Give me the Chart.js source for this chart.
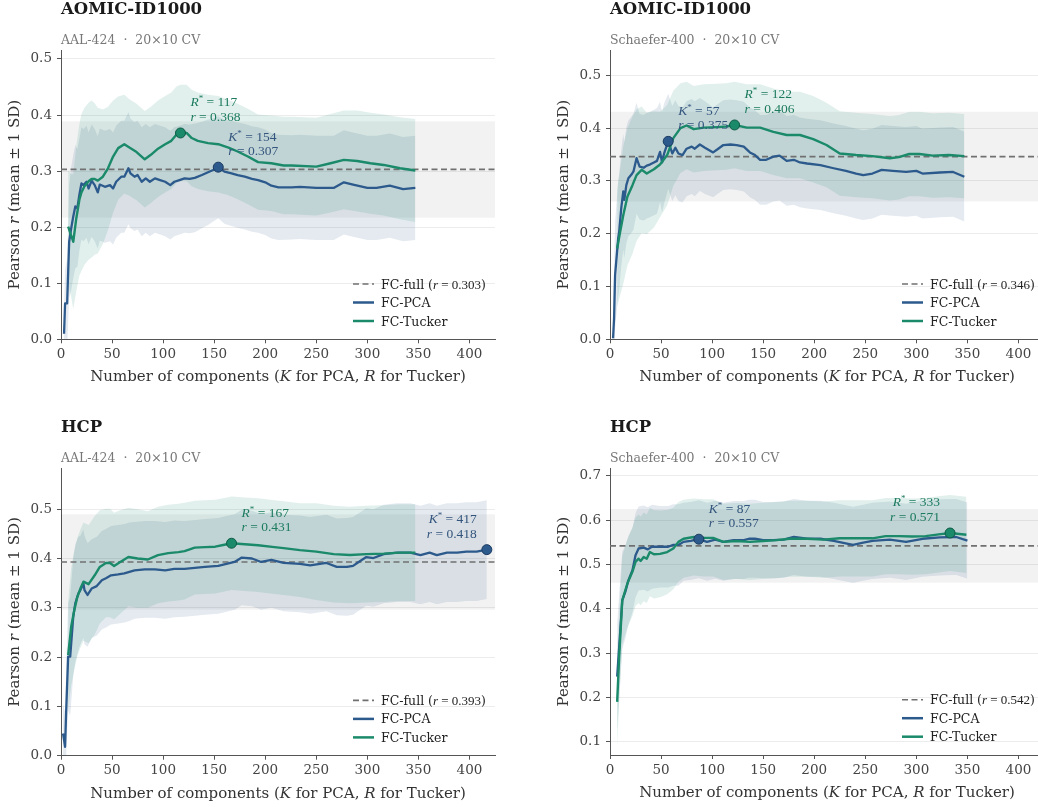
<!DOCTYPE html>
<html>
<head>
<meta charset="utf-8">
<script src="https://cdn.jsdelivr.net/npm/chart.js@4.4.1/dist/chart.umd.min.js"></script>
<style>
html,body{margin:0;padding:0;background:#fff;}
body{width:1038px;height:807px;overflow:hidden;position:relative;}
canvas{position:absolute;display:block;}
</style>
</head>
<body>
<canvas id="c0"></canvas>
<canvas id="c1"></canvas>
<canvas id="c2"></canvas>
<canvas id="c3"></canvas>
<script>
// ---------------- DATA ----------------
const titles = ['AOMIC-ID1000', 'AOMIC-ID1000', 'HCP', 'HCP'];
const subtitles = ['AAL-424  \u00b7  20\u00d710 CV', 'Schaefer-400  \u00b7  20\u00d710 CV', 'AAL-424  \u00b7  20\u00d710 CV', 'Schaefer-400  \u00b7  20\u00d710 CV'];
const xTicks = [0, 50, 100, 150, 200, 250, 300, 350, 400];
const yTicks1 = [0.0, 0.1, 0.2, 0.3, 0.4, 0.5];
const yTicks2 = [0.0, 0.1, 0.2, 0.3, 0.4, 0.5];
const yTicks3 = [0.0, 0.1, 0.2, 0.3, 0.4, 0.5];
const yTicks4 = [0.1, 0.2, 0.3, 0.4, 0.5, 0.6, 0.7];
const yRange = [[0, 0.516], [0, 0.548], [0, 0.583], [0.07, 0.717]];
const xMax = 425;

// FC-full baseline (mean r, SD)
const fullR  = [0.303, 0.346, 0.393, 0.542];
const fullSD = [0.086, 0.085, 0.097, 0.083];

// best points [component, r]
const bestPCA    = [[154, 0.307], [57, 0.375], [417, 0.418], [87, 0.557]];
const bestTucker = [[117, 0.368], [122, 0.406], [167, 0.431], [333, 0.571]];

// Panel 1: AOMIC-ID1000, AAL-424
const pca1K = [3,4,6,8,10,12,14,16,18,20,22,25,27,30,33,36,38,43,48,51,54,59,62,66,68,72,75,79,83,87,92,97,102,107,111,116,121,126,131,138,144,149,154,160,167,173,180,187,193,200,206,213,226,234,250,267,277,286,300,309,322,335,347];
const pca1R = [0.010,0.064,0.064,0.174,0.198,0.219,0.237,0.234,0.258,0.278,0.275,0.281,0.269,0.283,0.275,0.262,0.276,0.272,0.275,0.269,0.281,0.290,0.290,0.305,0.296,0.290,0.293,0.281,0.287,0.281,0.287,0.284,0.281,0.275,0.281,0.284,0.287,0.286,0.288,0.293,0.298,0.302,0.307,0.299,0.296,0.293,0.290,0.286,0.284,0.280,0.274,0.271,0.271,0.272,0.270,0.270,0.280,0.276,0.270,0.270,0.274,0.268,0.270];
const pca1SD = [0.05,0.06,0.08,0.10,0.11,0.11,0.11,0.105,0.10,0.10,0.10,0.10,0.10,0.10,0.10,0.10,0.10,0.10,0.10,0.10,0.10,0.10,0.10,0.10,0.098,0.097,0.097,0.097,0.097,0.097,0.097,0.097,0.097,0.097,0.097,0.097,0.097,0.097,0.097,0.095,0.094,0.092,0.091,0.093,0.094,0.094,0.094,0.094,0.094,0.094,0.094,0.094,0.093,0.093,0.093,0.093,0.093,0.093,0.093,0.093,0.093,0.093,0.093];
const tuc1K = [7,10,12,15,18,20,23,27,30,33,36,41,46,51,56,62,67,74,82,88,95,102,108,113,117,123,128,134,144,154,164,173,183,193,206,218,226,250,264,277,290,303,316,332,347];
const tuc1R = [0.201,0.185,0.174,0.216,0.249,0.262,0.273,0.282,0.286,0.286,0.283,0.290,0.305,0.326,0.341,0.348,0.342,0.334,0.321,0.329,0.340,0.348,0.354,0.365,0.368,0.368,0.359,0.354,0.350,0.348,0.342,0.335,0.326,0.316,0.314,0.310,0.310,0.308,0.314,0.320,0.318,0.314,0.311,0.305,0.301];
const tuc1SD = [0.10,0.11,0.12,0.13,0.135,0.14,0.14,0.14,0.14,0.135,0.13,0.12,0.11,0.10,0.092,0.088,0.086,0.086,0.086,0.086,0.086,0.086,0.086,0.086,0.086,0.086,0.086,0.086,0.086,0.086,0.085,0.085,0.085,0.085,0.085,0.087,0.087,0.087,0.088,0.088,0.09,0.09,0.09,0.091,0.092];

// Panel 2: AOMIC-ID1000, Schaefer-400
const pca2K = [3,4,5,8,9,11,13,14,16,18,21,23,26,29,33,36,39,43,46,49,51,53,57,61,64,67,71,75,80,83,88,93,101,106,111,118,124,131,137,142,147,153,160,166,173,180,186,193,206,219,231,241,248,257,266,277,290,300,306,323,336,347];
const pca2R = [0.002,0.040,0.122,0.191,0.204,0.248,0.280,0.264,0.292,0.305,0.312,0.318,0.343,0.327,0.325,0.329,0.331,0.335,0.338,0.355,0.335,0.352,0.375,0.352,0.363,0.352,0.349,0.361,0.365,0.361,0.369,0.363,0.354,0.361,0.368,0.369,0.368,0.365,0.354,0.349,0.340,0.340,0.346,0.348,0.338,0.340,0.335,0.333,0.330,0.324,0.319,0.314,0.311,0.314,0.321,0.319,0.317,0.319,0.314,0.316,0.317,0.308];
const pca2SD = [0.08,0.09,0.10,0.11,0.11,0.11,0.11,0.11,0.11,0.11,0.11,0.11,0.105,0.10,0.10,0.10,0.10,0.10,0.10,0.095,0.095,0.095,0.09,0.09,0.09,0.09,0.09,0.09,0.09,0.09,0.088,0.088,0.085,0.085,0.085,0.085,0.085,0.085,0.085,0.085,0.085,0.085,0.085,0.085,0.085,0.085,0.085,0.085,0.085,0.085,0.085,0.085,0.085,0.085,0.085,0.085,0.085,0.085,0.085,0.085,0.085,0.085];
const tuc2K = [7,10,13,17,22,26,31,36,43,49,56,62,69,75,82,92,105,114,122,134,147,160,173,186,199,212,225,241,257,274,283,293,303,316,332,347];
const tuc2R = [0.172,0.204,0.235,0.270,0.292,0.311,0.321,0.314,0.322,0.331,0.349,0.381,0.400,0.405,0.398,0.401,0.402,0.403,0.406,0.401,0.401,0.393,0.387,0.387,0.379,0.368,0.352,0.349,0.347,0.343,0.345,0.351,0.351,0.348,0.349,0.347];
const tuc2SD = [0.11,0.12,0.13,0.13,0.13,0.125,0.12,0.115,0.11,0.10,0.095,0.09,0.085,0.083,0.082,0.082,0.082,0.082,0.082,0.082,0.082,0.082,0.082,0.082,0.082,0.08,0.08,0.08,0.08,0.08,0.08,0.08,0.08,0.08,0.08,0.08];

// Panel 3: HCP, AAL-424
const pca3K = [2,4,5,7,9,12,14,17,19,22,23,26,30,35,40,44,49,56,62,67,72,82,92,102,111,121,131,141,154,164,170,177,187,196,206,218,234,244,260,270,280,286,293,299,306,316,329,342,352,361,368,378,388,397,407,417];
const pca3R = [0.045,0.018,0.086,0.201,0.201,0.282,0.309,0.329,0.336,0.349,0.336,0.326,0.339,0.344,0.356,0.360,0.366,0.368,0.370,0.373,0.376,0.378,0.378,0.376,0.379,0.379,0.381,0.383,0.385,0.390,0.393,0.402,0.400,0.393,0.397,0.391,0.389,0.386,0.391,0.383,0.383,0.385,0.395,0.403,0.401,0.409,0.412,0.412,0.407,0.412,0.407,0.412,0.412,0.414,0.414,0.418];
const pca3SD = [0.06,0.07,0.09,0.11,0.12,0.12,0.12,0.115,0.11,0.11,0.11,0.105,0.10,0.10,0.10,0.10,0.10,0.10,0.10,0.10,0.098,0.098,0.098,0.098,0.098,0.097,0.097,0.097,0.097,0.097,0.097,0.097,0.097,0.097,0.097,0.098,0.098,0.098,0.098,0.098,0.099,0.099,0.099,0.099,0.099,0.10,0.10,0.10,0.10,0.10,0.10,0.10,0.10,0.10,0.10,0.10];
const tuc3K = [7,10,13,16,19,22,27,33,38,44,48,52,58,66,75,85,95,105,115,121,131,141,151,160,167,180,193,209,218,234,250,267,283,299,316,332,347];
const tuc3R = [0.204,0.262,0.295,0.322,0.339,0.353,0.348,0.366,0.383,0.391,0.391,0.385,0.393,0.403,0.400,0.398,0.407,0.411,0.413,0.415,0.422,0.423,0.424,0.428,0.431,0.429,0.427,0.423,0.421,0.417,0.414,0.409,0.407,0.409,0.410,0.412,0.412];
const tuc3SD = [0.11,0.12,0.12,0.12,0.12,0.12,0.12,0.12,0.115,0.11,0.11,0.108,0.105,0.10,0.10,0.098,0.098,0.098,0.098,0.098,0.095,0.095,0.095,0.095,0.095,0.095,0.095,0.095,0.095,0.095,0.098,0.098,0.098,0.098,0.098,0.098,0.098];

// Panel 4: HCP, Schaefer-400
const pca4K = [7,9,12,15,18,22,25,28,33,37,41,49,57,62,67,72,79,87,95,103,111,121,131,136,142,150,160,170,180,193,206,219,238,248,257,274,290,306,323,339,350];
const pca4R = [0.247,0.314,0.419,0.438,0.464,0.487,0.521,0.536,0.538,0.534,0.540,0.540,0.540,0.544,0.544,0.551,0.553,0.557,0.551,0.556,0.551,0.555,0.555,0.558,0.558,0.555,0.555,0.556,0.562,0.558,0.558,0.553,0.544,0.549,0.553,0.556,0.551,0.558,0.561,0.562,0.554];
const pca4SD = [0.12,0.12,0.11,0.105,0.10,0.095,0.095,0.095,0.095,0.095,0.095,0.092,0.092,0.092,0.092,0.088,0.088,0.088,0.088,0.088,0.088,0.088,0.088,0.088,0.088,0.086,0.086,0.086,0.086,0.086,0.086,0.086,0.086,0.086,0.086,0.086,0.086,0.086,0.086,0.086,0.086];
const tuc4K = [7,9,12,17,22,25,28,30,33,36,39,43,49,56,62,67,72,82,92,101,111,124,137,150,163,176,193,209,225,241,257,270,283,296,309,322,333,349];
const tuc4R = [0.190,0.292,0.419,0.457,0.484,0.506,0.513,0.508,0.517,0.513,0.528,0.523,0.524,0.528,0.536,0.551,0.558,0.562,0.560,0.560,0.551,0.553,0.551,0.553,0.555,0.558,0.558,0.556,0.559,0.559,0.559,0.564,0.564,0.563,0.564,0.568,0.571,0.567];
const tuc4SD = [0.10,0.10,0.10,0.10,0.10,0.10,0.10,0.10,0.10,0.10,0.10,0.10,0.098,0.095,0.092,0.09,0.088,0.087,0.087,0.087,0.086,0.086,0.086,0.086,0.086,0.086,0.086,0.086,0.086,0.086,0.086,0.086,0.086,0.086,0.086,0.086,0.086,0.086];

// ---------------- STYLE / LAYOUT ----------------
const C_PCA = '#2d5a8c', C_TUC = '#1a8a6a';
const C_PCA_EDGE = '#1b3a60', C_TUC_EDGE = '#0e5a44';
const C_PCA_BAND = 'rgba(45,90,140,0.13)', C_TUC_BAND = 'rgba(26,138,106,0.13)';
const C_FULL_BAND = 'rgba(0,0,0,0.05)';
const C_DASH = '#707070';
const SERIF = '"DejaVu Serif", serif';
const MATH = '"Liberation Serif", "DejaVu Serif", serif';

const layouts = [
  {left:0,   top:0,   w:519, h:400, padTop:50,   xh:60.7},
  {left:549, top:0,   w:519, h:400, padTop:50,   xh:60.7},
  {left:0,   top:418, w:519, h:398, padTop:50.3, xh:60.3},
  {left:549, top:418, w:519, h:398, padTop:50.3, xh:61.0}
];

const panels = [
  {pK:pca1K, pR:pca1R, pS:pca1SD, tK:tuc1K, tR:tuc1R, tS:tuc1SD, yt:yTicks1},
  {pK:pca2K, pR:pca2R, pS:pca2SD, tK:tuc2K, tR:tuc2R, tS:tuc2SD, yt:yTicks2},
  {pK:pca3K, pR:pca3R, pS:pca3SD, tK:tuc3K, tR:tuc3R, tS:tuc3SD, yt:yTicks3},
  {pK:pca4K, pR:pca4R, pS:pca4SD, tK:tuc4K, tR:tuc4R, tS:tuc4SD, yt:yTicks4}
];

function pts(xs, ys) { return xs.map((x, i) => ({x: x, y: ys[i]})); }
function edge(xs, ys, sd, sign) { return xs.map((x, i) => ({x: x, y: ys[i] + sign * sd[i]})); }

function drawRich(ctx, segs, x, y, align) {
  let w = 0;
  for (const s of segs) { ctx.font = s.font; w += ctx.measureText(s.t).width; }
  let cx = align === 'center' ? x - w / 2 : (align === 'right' ? x - w : x);
  ctx.textAlign = 'left';
  ctx.textBaseline = 'alphabetic';
  for (const s of segs) {
    ctx.font = s.font;
    ctx.fillStyle = s.color;
    ctx.fillText(s.t, cx, y + (s.dy || 0));
    cx += ctx.measureText(s.t).width;
  }
}

const panelText = {
  id: 'panelText',
  afterDraw(chart) {
    const o = chart.options.plugins.panelText;
    const ctx = chart.ctx;
    const a = chart.chartArea;
    const xs = chart.scales.x, ys = chart.scales.y;
    ctx.save();
    // title + subtitle
    ctx.textAlign = 'left'; ctx.textBaseline = 'alphabetic';
    ctx.font = 'bold 16.5px ' + SERIF; ctx.fillStyle = '#1a1a1a';
    ctx.fillText(o.title, a.left, a.top - 36.5);
    ctx.font = '12.5px ' + SERIF; ctx.fillStyle = '#777';
    ctx.fillText(o.subtitle, a.left, a.top - 6.5);
    // x title
    const tf = '15px ' + SERIF, tfi = 'italic 15px ' + SERIF, tc = '#333';
    drawRich(ctx, [
      {t:'Number of components (', font:tf, color:tc},
      {t:'K', font:tfi, color:tc},
      {t:' for PCA, ', font:tf, color:tc},
      {t:'R', font:tfi, color:tc},
      {t:' for Tucker)', font:tf, color:tc}
    ], (a.left + a.right) / 2, a.bottom + 42, 'center');
    // y title
    ctx.save();
    ctx.translate(a.left - 42, (a.top + a.bottom) / 2);
    ctx.rotate(-Math.PI / 2);
    drawRich(ctx, [
      {t:'Pearson ', font:tf, color:tc},
      {t:'r', font:tfi, color:tc},
      {t:' (mean \u00b1 1 SD)', font:tf, color:tc}
    ], 0, 0, 'center');
    ctx.restore();
    // legend
    const lf = '12.5px ' + SERIF, lm = '13px ' + MATH, lmi = 'italic 13px ' + MATH, lc = '#222';
    const rows = [a.bottom - 55.3, a.bottom - 36.8, a.bottom - 18.3];
    const lx0 = a.right - 142, lx1 = a.right - 121, tx = a.right - 114;
    ctx.lineCap = 'butt';
    ctx.strokeStyle = C_DASH; ctx.lineWidth = 1.6; ctx.setLineDash([6, 3.5]);
    ctx.beginPath(); ctx.moveTo(lx0, rows[0]); ctx.lineTo(lx1, rows[0]); ctx.stroke();
    ctx.setLineDash([]);
    ctx.lineWidth = 2.5;
    ctx.strokeStyle = C_PCA; ctx.beginPath(); ctx.moveTo(lx0, rows[1]); ctx.lineTo(lx1, rows[1]); ctx.stroke();
    ctx.strokeStyle = C_TUC; ctx.beginPath(); ctx.moveTo(lx0, rows[2]); ctx.lineTo(lx1, rows[2]); ctx.stroke();
    drawRich(ctx, [
      {t:'FC-full (', font:lf, color:lc},
      {t:'r', font:lmi, color:lc},
      {t:' = ' + o.full.toFixed(3), font:lm, color:lc},
      {t:')', font:lf, color:lc}
    ], tx, rows[0] + 4.5, 'left');
    drawRich(ctx, [{t:'FC-PCA', font:lf, color:lc}], tx, rows[1] + 4.5, 'left');
    drawRich(ctx, [{t:'FC-Tucker', font:lf, color:lc}], tx, rows[2] + 4.5, 'left');
    // annotations
    const ann = (best, sym, color) => {
      const px = xs.getPixelForValue(best[0]);
      const py = ys.getPixelForValue(best[1]);
      const right = best[0] > 300;
      const x = right ? px - 10 : px + 10;
      const al = right ? 'right' : 'left';
      const f = '13.5px ' + MATH, fi = 'italic 13.5px ' + MATH, fs = '9px ' + MATH;
      drawRich(ctx, [
        {t:sym, font:fi, color:color},
        {t:'*', font:fs, color:color, dy:-5},
        {t:' = ' + best[0], font:f, color:color}
      ], x, py - 26.5, al);
      drawRich(ctx, [
        {t:'r', font:fi, color:color},
        {t:' = ' + best[1].toFixed(3), font:f, color:color}
      ], x, py - 12, al);
    };
    ann(o.bestP, 'K', '#34557d');
    ann(o.bestT, 'R', '#1c7a5e');
    ctx.restore();
  }
};

function makeChart(i) {
  const L = layouts[i], p = panels[i];
  const cv = document.getElementById('c' + i);
  cv.width = L.w; cv.height = L.h;
  cv.style.left = L.left + 'px'; cv.style.top = L.top + 'px';
  cv.style.width = L.w + 'px'; cv.style.height = L.h + 'px';
  const hidden = {borderWidth:0, borderColor:'rgba(0,0,0,0)', pointRadius:0, fill:false};
  const fr = fullR[i], fs = fullSD[i];
  const datasets = [
    Object.assign({data:[{x:0, y:fr - fs}, {x:xMax, y:fr - fs}], order:10}, hidden),
    Object.assign({}, hidden, {data:[{x:0, y:fr + fs}, {x:xMax, y:fr + fs}], fill:'-1', backgroundColor:C_FULL_BAND, order:10}),
    Object.assign({data:edge(p.pK, p.pR, p.pS, -1), order:9}, hidden),
    Object.assign({}, hidden, {data:edge(p.pK, p.pR, p.pS, 1), fill:'-1', backgroundColor:C_PCA_BAND, order:9}),
    Object.assign({data:edge(p.tK, p.tR, p.tS, -1), order:8}, hidden),
    Object.assign({}, hidden, {data:edge(p.tK, p.tR, p.tS, 1), fill:'-1', backgroundColor:C_TUC_BAND, order:8}),
    {label:'FC-full', data:[{x:0, y:fr}, {x:xMax, y:fr}], borderColor:C_DASH, borderWidth:1.6, borderDash:[6, 3.5], pointRadius:0, fill:false, order:5},
    {label:'FC-PCA', data:pts(p.pK, p.pR), borderColor:C_PCA, borderWidth:2.3, pointRadius:0, fill:false, order:3},
    {label:'FC-Tucker', data:pts(p.tK, p.tR), borderColor:C_TUC, borderWidth:2.4, pointRadius:0, fill:false, order:2},
    {data:[{x:bestPCA[i][0], y:bestPCA[i][1]}], showLine:false, pointRadius:5, pointBackgroundColor:C_PCA, pointBorderColor:C_PCA_EDGE, pointBorderWidth:1, order:1},
    {data:[{x:bestTucker[i][0], y:bestTucker[i][1]}], showLine:false, pointRadius:5, pointBackgroundColor:C_TUC, pointBorderColor:C_TUC_EDGE, pointBorderWidth:1, order:0}
  ];
  const tickFont = {family:SERIF, size:13.5};
  return new Chart(cv, {
    type:'line',
    data:{datasets:datasets},
    plugins:[panelText],
    options:{
      responsive:false, animation:false, devicePixelRatio:1,
      layout:{padding:{left:0, top:L.padTop, right:24, bottom:0}},
      elements:{line:{tension:0, borderJoinStyle:'round', borderCapStyle:'butt'}},
      plugins:{
        legend:{display:false}, tooltip:{enabled:false},
        filler:{propagate:false},
        panelText:{title:titles[i], subtitle:subtitles[i], full:fr, bestP:bestPCA[i], bestT:bestTucker[i]}
      },
      scales:{
        x:{type:'linear', min:0, max:xMax,
          afterBuildTicks:s => { s.ticks = xTicks.map(v => ({value:v})); },
          afterFit:s => { s.height = L.xh; },
          grid:{drawOnChartArea:false, drawTicks:true, tickLength:4, tickColor:'#555', lineWidth:1},
          border:{display:true, color:'#555', width:1},
          ticks:{font:tickFont, color:'#444', padding:3, maxRotation:0, autoSkip:false, callback:v => String(v)}},
        y:{type:'linear', min:yRange[i][0], max:yRange[i][1],
          afterBuildTicks:s => { s.ticks = p.yt.map(v => ({value:v})); },
          afterFit:s => { s.width = 61; },
          grid:{color:'#ececec', lineWidth:1, drawTicks:true, tickLength:4, tickColor:'#555'},
          border:{display:true, color:'#555', width:1},
          ticks:{font:tickFont, color:'#444', padding:5, autoSkip:false, callback:v => Number(v).toFixed(1)}}
      }
    }
  });
}
for (let i = 0; i < 4; i++) makeChart(i);
</script>
</body>
</html>
